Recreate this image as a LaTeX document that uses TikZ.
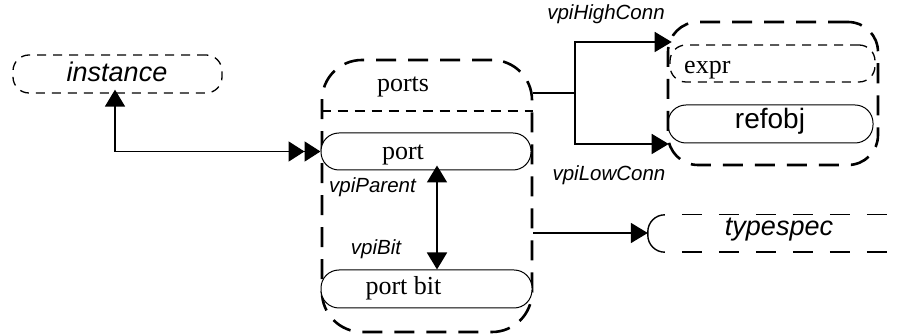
\documentclass[tikz,border=0pt]{standalone}
\usepackage{fontspec}
\setmainfont{Liberation Serif}
\setsansfont{Liberation Sans}
\usetikzlibrary{arrows.meta}
\begin{document}
\begin{tikzpicture}[x=1pt,y=-1pt,
  thickdash/.style={draw, line width=2.6pt, dash pattern=on 20pt off 12pt, rounded corners=#1},
  thindash/.style={draw, line width=1.3pt, dash pattern=on 9pt off 7pt, rounded corners=#1},
  solidbox/.style={draw, line width=1pt, rounded corners=#1},
  conn/.style={line width=1.8pt},
  tsline/.style={line width=1.4pt},
  endtip/.style={-{Triangle[length=17pt,width=20pt]}},
  bothtip/.style={{Triangle[length=17pt,width=20pt]}-{Triangle[length=17pt,width=20pt]}},
  dbltip/.style={{Triangle[length=17pt,width=20pt]}-{Triangle[length=16pt,width=20pt]Triangle[length=16pt,width=20pt]}},
  bigsans/.style={font=\sffamily\itshape\fontsize{27}{30}\selectfont, inner sep=0pt, anchor=base},
  smallsans/.style={font=\sffamily\itshape\fontsize{20.5}{24}\selectfont, inner sep=0pt, anchor=base},
  serif/.style={font=\fontsize{26}{30}\selectfont, inner sep=0pt, anchor=base}
]
\useasboundingbox (0,0) rectangle (903,336);

% boxes
\node[thindash=16, minimum width=209pt, minimum height=38pt] (instance) at (117.5,74) {};
\node[bigsans] at (117,81.5) {instance};

\node[thickdash=40, minimum width=210pt, minimum height=272pt] (ports) at (427,196) {};
\node[serif] (portslbl) at (403,92) {ports};
\draw[line width=1.3pt, dash pattern=on 10pt off 7pt] (ports.west |- 0,111) -- (ports.east |- 0,111);

\node[solidbox=18, fill=white, minimum width=210pt, minimum height=37pt] (port) at (426,151.5) {};
\node[serif] at (403,160) {port};

\node[solidbox=18, fill=white, minimum width=211pt, minimum height=38pt] (portbit) at (426.5,289) {};
\node[serif] at (403.5,295) {port bit};

\node[thickdash=30, minimum width=210pt, minimum height=143pt] (grp) at (773,93.5) {};
\node[thindash=16, minimum width=205pt, minimum height=37pt] (expr) at (772.5,63.5) {};
\node[serif, anchor=base west] at (684,74) {expr};
\node[solidbox=18, minimum width=205pt, minimum height=38pt] (refobj) at (770.5,124) {};
\node[font=\sffamily\fontsize{28}{32}\selectfont, inner sep=0pt, anchor=base] at (770,129) {refobj};

\node[minimum width=285pt, minimum height=37pt] (typespec) at (790.5,233.5) {};
\draw[tsline, rounded corners=17pt] ([xshift=17pt]typespec.north west) -- (typespec.north west) -- (typespec.south west) -- ([xshift=17pt]typespec.south west);
\draw[tsline, dash pattern=on 20pt off 17pt] ([xshift=34pt]typespec.north west) -- (typespec.north east);
\draw[tsline, dash pattern=on 20pt off 17pt] ([xshift=34pt]typespec.south west) -- (typespec.south east);
\node[bigsans] at (779,236) {typespec};

% connectors
\coordinate (ivert) at (115,0);
\draw[conn, dbltip] ([yshift=4pt]instance.south -| ivert) |- (port.west);

\coordinate (ax) at (437,0);
\draw[conn, bothtip] ([yshift=5pt]port.south -| ax) -- (portbit.north -| ax);

\coordinate (hc) at (575,93);
\coordinate (hi) at (0,42);
\coordinate (lo) at (0,144);
\draw[conn] (ports.east |- hc) -- (hc);
\draw[conn, endtip] (hc) |- ([xshift=5pt]grp.west |- hi);
\draw[conn, endtip] (hc) |- ([xshift=2pt]grp.west |- lo);

\coordinate (ts) at (0,233);
\draw[conn, endtip] (ports.east |- ts) -- (typespec.west |- ts);

% labels
\node[smallsans] at (606,20) {vpiHighConn};
\node[smallsans] at (609,181) {vpiLowConn};
\node[smallsans] at (372.5,193) {vpiParent};
\node[smallsans] at (376,255) {vpiBit};
\end{tikzpicture}
\end{document}
